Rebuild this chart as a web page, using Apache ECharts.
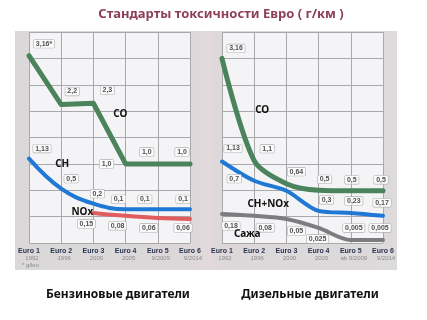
<!DOCTYPE html>
<html>
<head>
<meta charset="utf-8">
<script src="https://cdn.jsdelivr.net/npm/echarts@6/dist/echarts.min.js"></script>
<style>
  html, body { margin: 0; padding: 0; background: #fff; }
  #chart { width: 427px; height: 320px; }
</style>
</head>
<body>
<div id="chart"></div>
<script>
// стадии Евро
const euroStages = ['Euro 1', 'Euro 2', 'Euro 3', 'Euro 4', 'Euro 5', 'Euro 6']
const petrolYears = ['1992', '1996', '2000', '2005', '9/2009', '9/2014']
const dieselYears = ['1992', '1996', '2000', '2005', 'ab 9/2009', '9/2014']

// подписи значений (г/км), как напечатано
const petrolCOText = ['3,16*', '2,2', '2,3', '1,0', '1,0', '1,0']
const petrolCHText = ['1,13', '0,5', '0,2', '0,1', '0,1', '0,1']
const petrolNOxText = [null, null, '0,15', '0,08', '0,06', '0,06']
const dieselCOText = ['3,16', '1,1', '0,64', '0,5', '0,5', '0,5']
const dieselHCNOxText = ['1,13', '0,7', null, '0,3', '0,23', '0,17']
const dieselSootText = ['0,18', '0,08', '0,05', '0,025', '0,005', '0,005']

// высота кривых на картинке (в клетках сетки, схема не в масштабе)
const petrolCOLevel = [7.1, 5.25, 5.3, 3.0, 3.0, 3.0]
const petrolCHLevel = [3.2, 2.06, 1.49, 1.28, 1.28, 1.28]
const petrolNOxLevel = ['-', '-', 1.14, 1.03, 0.95, 0.91]
const dieselCOLevel = [7.0, 3.12, 2.25, 2.0, 1.98, 1.98]
const dieselHCNOxLevel = [3.09, 2.36, 1.98, 1.22, 1.14, 1.03]
const dieselSootLevel = [1.1, 1.03, 0.91, 0.57, 0.11, 0.11]

const boxLabel = {
  show: true,
  position: 'inside',
  fontSize: 7,
  fontWeight: 'bold',
  fontFamily: 'Liberation Sans',
  color: '#505050',
  backgroundColor: '#fbfbfb',
  borderColor: '#b0b0b0',
  borderWidth: 0.6,
  borderRadius: 1,
  padding: [1, 2, 0, 2]
}

const nameLabel = {
  show: true,
  position: 'inside',
  fontSize: 10,
  fontWeight: 'bold',
  fontFamily: 'Noto Sans',
  color: '#111'
}

function makeLine(idx, levels, texts, offsets, color, width, smooth, tag) {
  return {
    type: 'line',
    xAxisIndex: idx,
    yAxisIndex: idx,
    silent: true,
    symbol: 'circle',
    symbolSize: 1,
    smooth: smooth,
    lineStyle: { color: color, width: width, cap: 'round', join: 'round' },
    itemStyle: { color: color },
    label: boxLabel,
    data: levels.map((v, i) => {
      if (v === '-') return '-'
      if (!texts[i]) return { value: v, label: { show: false } }
      return { value: v, label: { formatter: texts[i], offset: offsets[i] } }
    }),
    // имя кривой
    markPoint: {
      silent: true,
      symbol: 'circle',
      symbolSize: 0,
      label: nameLabel,
      data: [{ coord: [tag.at, levels[tag.at]], label: { formatter: tag.text, offset: tag.offset } }]
    }
  }
}

function xAxis(idx, years) {
  return {
    type: 'category',
    gridIndex: idx,
    data: euroStages,
    boundaryGap: false,
    axisLine: { show: false },
    axisTick: { show: false },
    splitLine: { show: true, lineStyle: { color: '#a9a9ad', width: 1 } },
    axisLabel: {
      interval: 0,
      margin: 4,
      formatter: (v, i) => '{e|' + v + '}\n{y|' + years[i] + '}',
      rich: {
        e: { fontSize: 7, fontWeight: 'bold', color: '#2b3550', fontFamily: 'Liberation Sans', lineHeight: 8 },
        y: { fontSize: 6, color: '#8a8a8a', fontFamily: 'Liberation Sans', lineHeight: 7, padding: [0, 0, 0, 6] }
      }
    }
  }
}

function yAxis(idx) {
  return {
    type: 'value',
    gridIndex: idx,
    min: 0,
    max: 8,
    interval: 1,
    axisLabel: { show: false },
    axisLine: { show: false },
    axisTick: { show: false },
    splitLine: { show: true, lineStyle: { color: '#a9a9ad', width: 1 } }
  }
}

const chart = echarts.init(document.getElementById('chart'), null, { renderer: 'canvas' })

const option = {
  animation: false,
  backgroundColor: '#fff',
  graphic: [
    {
      type: 'rect',
      z: -10,
      shape: { x: 15, y: 31, width: 382, height: 239 },
      style: {
        fill: new echarts.graphic.LinearGradient(0, 0, 1, 0, [
          { offset: 0, color: '#dad8d9' },
          { offset: 0.45, color: '#dcd8d9' },
          { offset: 0.5, color: '#e2d9db' },
          { offset: 0.55, color: '#dcd8d9' },
          { offset: 1, color: '#dcdadb' }
        ])
      }
    },
    {
      type: 'text',
      style: {
        text: 'Стандарты токсичности Евро ( г/км )',
        x: 221, y: 14, textAlign: 'center', textVerticalAlign: 'middle',
        font: 'bold 13px "Noto Sans"', fill: '#8c3f55'
      }
    },
    {
      type: 'text',
      style: {
        text: 'Бензиновые двигатели',
        x: 118, y: 295, textAlign: 'center', textVerticalAlign: 'middle',
        font: 'bold 12px "Noto Sans"', fill: '#111'
      }
    },
    {
      type: 'text',
      style: {
        text: 'Дизельные двигатели',
        x: 310, y: 295, textAlign: 'center', textVerticalAlign: 'middle',
        font: 'bold 12px "Noto Sans"', fill: '#111'
      }
    },
    {
      type: 'text',
      style: {
        text: '* g/km',
        x: 22, y: 265, textVerticalAlign: 'middle',
        font: '6px "Liberation Sans"', fill: '#888'
      }
    }
  ],
  grid: [
    { left: 29, right: 237, top: 32, bottom: 77, show: true, backgroundColor: '#f4f4f6', borderWidth: 0 },
    { left: 222, right: 44, top: 32, bottom: 77, show: true, backgroundColor: '#f4f4f6', borderWidth: 0 }
  ],
  xAxis: [xAxis(0, petrolYears), xAxis(1, dieselYears)],
  yAxis: [yAxis(0), yAxis(1)],
  series: [
    makeLine(0, petrolNOxLevel, petrolNOxText,
      [null, null, [-7, 11], [-8, 10], [-9, 10], [-7, 9]],
      '#e05c5e', 4, 0.4, { at: 2, text: 'NOx', offset: [-11, -1] }),
    makeLine(0, petrolCHLevel, petrolCHText,
      [[13, -10], [10, -10], [4, -10], [-7, -10], [-13, -10], [-7, -10]],
      '#1f78d4', 4, 0.4, { at: 1, text: 'CH', offset: [1, -25] }),
    makeLine(0, petrolCOLevel, petrolCOText,
      [[15, -12], [11, -13], [14, -13], [-19, 0], [-11, -12], [-8, -12]],
      '#4b835c', 5, false, { at: 2, text: 'CO', offset: [27, 11] }),
    makeLine(1, dieselSootLevel, dieselSootText,
      [[9, 12], [11, 12], [10, 12], [-1, 11], [3, -12], [-3, -12]],
      '#7d7d7f', 4, 0.3, { at: 1, text: 'Сажа', offset: [-7, 18] }),
    makeLine(1, dieselHCNOxLevel, dieselHCNOxText,
      [[11, -13], [-20, -2], null, [8, -11], [3, -12], [-1, -13]],
      '#1f78d4', 4, 0.3, { at: 1, text: 'CH+NOx', offset: [14, 23] }),
    makeLine(1, dieselCOLevel, dieselCOText,
      [[14, -10], [13, -12], [10, -12], [6, -11], [1, -11], [-2, -11]],
      '#4b835c', 5, 0.3, { at: 1, text: 'CO', offset: [8, -51] })
  ]
}

chart.setOption(option)
</script>
</body>
</html>
